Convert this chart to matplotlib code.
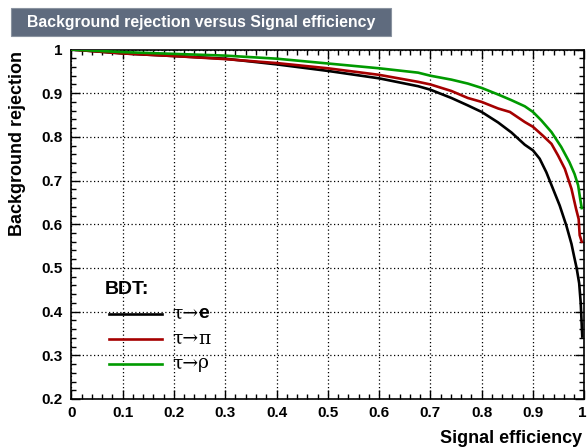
import matplotlib
matplotlib.use("Agg")
import matplotlib.pyplot as plt
from matplotlib.lines import Line2D
from matplotlib.patches import Rectangle
from matplotlib.ticker import MultipleLocator, FuncFormatter
import matplotlib.transforms as mtransforms

plt.rcParams['font.family'] = ['Liberation Sans', 'DejaVu Sans']

# Data
eff_e = [0.0, 0.1, 0.2, 0.3, 0.4, 0.5, 0.6, 0.676, 0.7, 0.741, 0.773, 0.8, 0.832, 0.858, 0.884, 0.9,
         0.913, 0.926, 0.939, 0.952, 0.965, 0.975, 0.98, 0.985, 0.99, 0.993, 0.996]
rej_e = [1.0, 0.991, 0.985, 0.979, 0.966, 0.951, 0.934, 0.916, 0.908, 0.889, 0.872, 0.857, 0.833, 0.810, 0.782, 0.769,
         0.750, 0.719, 0.681, 0.643, 0.597, 0.555, 0.527, 0.500, 0.465, 0.42, 0.343]

eff_pi = [0.0, 0.1, 0.2, 0.3, 0.4, 0.5, 0.6, 0.676, 0.7, 0.741, 0.773, 0.8, 0.832, 0.855, 0.884, 0.9,
          0.919, 0.936, 0.949, 0.962, 0.975, 0.984, 0.989, 0.991, 0.995]
rej_pi = [1.0, 0.991, 0.985, 0.978, 0.969, 0.957, 0.942, 0.926, 0.920, 0.905, 0.889, 0.880, 0.865, 0.857, 0.834, 0.823,
          0.803, 0.784, 0.757, 0.727, 0.681, 0.635, 0.612, 0.575, 0.560]

eff_rho = [0.0, 0.1, 0.2, 0.3, 0.4, 0.5, 0.6, 0.676, 0.7, 0.741, 0.773, 0.8, 0.832, 0.858, 0.884, 0.9,
           0.916, 0.936, 0.955, 0.971, 0.981, 0.988, 0.992, 0.995]
rej_rho = [1.0, 0.994, 0.990, 0.986, 0.979, 0.968, 0.957, 0.947, 0.940, 0.931, 0.922, 0.912, 0.897, 0.884, 0.870, 0.857,
           0.838, 0.811, 0.777, 0.742, 0.715, 0.689, 0.658, 0.637]

legend_title = 'BDT:'
legend_syms = ['e', 'π', 'ρ']
colors = ['#000000', '#a50000', '#009a00']

series = [(eff_e, rej_e), (eff_pi, rej_pi), (eff_rho, rej_rho)]

W, H = 588, 447
fig = plt.figure(figsize=(W / 100, H / 100), dpi=100)
L, R, T, B = 71.3, 584.3, 49.5, 399.0
ax = fig.add_axes([L / W, (H - B) / H, (R - L) / W, (B - T) / H])

for (x, y), c in zip(series, colors):
    ax.plot(x, y, color=c, lw=1.9, solid_joinstyle='round', zorder=3)

ax.set_xlim(0, 1)
ax.set_ylim(0.2, 1)
ax.xaxis.set_major_locator(MultipleLocator(0.1))
ax.xaxis.set_minor_locator(MultipleLocator(0.02))
ax.yaxis.set_major_locator(MultipleLocator(0.1))
ax.yaxis.set_minor_locator(MultipleLocator(0.02))

def fmt(v, pos):
    s = f"{v:.1f}"
    if s == "0.0":
        return "0"
    if s == "1.0":
        return "1"
    return s

ax.xaxis.set_major_formatter(FuncFormatter(fmt))
ax.yaxis.set_major_formatter(FuncFormatter(fmt))

ax.tick_params(which='both', direction='in', top=True, right=True, width=1, color='black')
ax.tick_params(which='major', length=6.5, labelsize=11)
ax.tick_params(axis='x', which='major', pad=5)
ax.tick_params(axis='y', which='major', pad=6)
ax.tick_params(which='minor', length=3.3)
for lab in ax.get_xticklabels() + ax.get_yticklabels():
    lab.set_fontweight('bold')
ax.grid(True, which='major', color='black', linestyle=(0, (1, 2)), linewidth=0.9)
for s in ax.spines.values():
    s.set_linewidth(1.2)

# nudge the last x tick label ("1") slightly left so it stays inside the canvas
fig.canvas.draw()
for t in ax.get_xticklabels():
    if t.get_text() == '1':
        t.set_transform(t.get_transform() + mtransforms.ScaledTranslation(-2 / 100, 0, fig.dpi_scale_trans))

ax.set_xlabel('Signal efficiency', fontsize=13, fontweight='bold', ha='right')
ax.xaxis.set_label_coords((582 - L) / (R - L), -(443 - B) / (B - T), transform=ax.transAxes)
ax.xaxis.label.set_va('baseline')
ax.set_ylabel('Background rejection', fontsize=13, fontweight='bold', ha='right')
ax.yaxis.set_label_coords(-(L - 22) / (R - L), (B - 51.5) / (B - T))
ax.yaxis.label.set_va('baseline')

# Title box
fig.patches.append(Rectangle((11 / W, 1 - 36 / H), 380 / W, 28 / H,
                             transform=fig.transFigure, facecolor='#5f6b7e',
                             edgecolor='#8a93a0', lw=0.8, zorder=0))
fig.text(201 / W, 1 - 22 / H, 'Background rejection versus Signal efficiency',
         color='white', fontsize=11.4, fontweight='bold', ha='center', va='center')

# Legend (manual)
def ax_xy(px, py):
    return ((px - L) / (R - L), (B - py) / (B - T))

bx, by = ax_xy(105, 290)
ax.text(bx, by, legend_title, transform=ax.transAxes, fontsize=14, fontweight='bold',
        ha='left', va='center', zorder=5)
ypix = [314, 339, 363.5]
rend = fig.canvas.get_renderer()
for sym, c, yp in zip(legend_syms, colors, ypix):
    x0, yy = ax_xy(109, yp)
    x1, _ = ax_xy(162, yp)
    ax.add_line(Line2D([x0, x1], [yy, yy], color=c, lw=1.9, transform=ax.transAxes, zorder=5))
    tx, _ = ax_xy(172, yp)
    t = ax.text(tx, yy, 'τ→', transform=ax.transAxes, fontsize=13.5,
                family=['DejaVu Serif'], ha='left', va='center', zorder=5)
    bb = t.get_window_extent(renderer=rend)
    axbb = ax.get_window_extent(rend)
    tx2 = (bb.x1 - axbb.x0) / axbb.width
    if sym == 'e':
        ax.text(tx2, yy, sym, transform=ax.transAxes, fontsize=14, fontweight='bold',
                ha='left', va='center', zorder=5)
    else:
        ax.text(tx2, yy, sym, transform=ax.transAxes, fontsize=13.5,
                family=['DejaVu Serif'], ha='left', va='center', zorder=5)

fig.savefig('out.png', dpi=100)
